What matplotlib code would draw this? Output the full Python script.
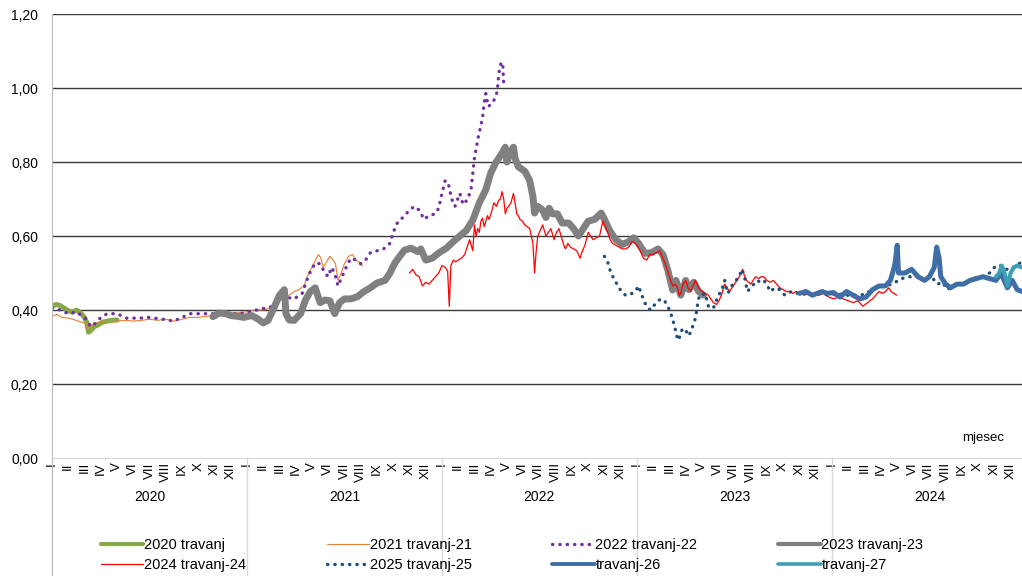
import numpy as np
import matplotlib
matplotlib.use("Agg")
import matplotlib.pyplot as plt
from matplotlib.transforms import blended_transform_factory

plt.rcParams['font.family'] = ['Liberation Sans', 'DejaVu Sans']

# x values are months counted from January 2020 (0 = start of I/2020)
years = ['2020', '2021', '2022', '2023', '2024']
months = ['I', 'II', 'III', 'IV', 'V', 'VI', 'VII', 'VIII', 'IX', 'X', 'XI', 'XII']

s2020 = [(0, .41), (0.25, .415), (0.5, .412), (0.75, .405), (1.0, .398), (1.25, .394),
         (1.5, .40), (1.75, .392), (2.0, .38), (2.15, .365), (2.25, .34), (2.4, .345),
         (2.6, .355), (2.85, .36), (3.1, .367), (3.4, .37), (3.7, .372), (4.0, .373)]

s2021 = [(0, .383), (0.3, .388), (0.6, .38), (1.0, .378), (1.3, .375), (1.6, .37), (2.0, .365),
         (2.25, .35), (2.5, .362), (2.8, .366), (3.2, .37), (3.6, .368), (4.0, .37), (4.5, .372),
         (5.0, .37), (5.5, .372), (6.0, .375), (6.5, .372), (7.0, .375), (7.5, .37), (8.0, .375),
         (8.5, .38), (9.0, .38), (9.5, .383), (10.0, .386), (10.5, .388), (11.0, .39), (11.5, .393),
         (12.0, .395), (12.5, .40), (13.0, .40), (13.4, .405), (13.7, .41), (14.0, .425),
         (14.3, .435), (14.6, .44), (14.9, .45), (15.2, .455), (15.5, .465), (15.8, .50),
         (16.1, .525), (16.4, .55), (16.55, .54), (16.7, .515), (16.9, .53), (17.1, .545),
         (17.3, .535), (17.45, .525), (17.6, .48), (17.8, .50), (18.0, .525), (18.25, .545),
         (18.5, .55), (18.7, .535), (18.9, .53), (19.1, .52)]

s2022 = [(0, .405), (0.5, .40), (1.0, .39), (1.5, .395), (2.0, .38), (2.4, .355), (2.7, .365),
         (3.0, .38), (3.4, .39), (4.0, .39), (4.6, .378), (5.4, .378), (6.0, .38), (6.8, .375),
         (7.5, .37), (8.0, .38), (8.5, .39), (9.5, .39), (10.8, .39), (11.6, .39), (12.6, .40),
         (13.6, .41), (14.4, .435), (14.9, .43), (15.4, .445), (15.8, .495), (16.2, .527),
         (16.5, .525), (16.8, .50), (17.0, .49), (17.2, .515), (17.4, .50), (17.6, .465),
         (18.0, .505), (18.2, .525), (18.4, .54), (18.7, .535), (19.0, .525), (19.3, .535),
         (19.6, .555), (20.0, .56), (20.4, .565), (20.8, .58), (21.0, .61), (21.3, .64),
         (21.6, .65), (22.0, .67), (22.3, .68), (22.6, .67), (22.9, .645), (23.2, .655),
         (23.6, .66), (23.8, .675), (24.0, .715), (24.2, .75), (24.4, .74), (24.6, .70),
         (24.8, .68), (25.1, .715), (25.3, .685), (25.6, .70), (25.8, .73), (25.9, .77),
         (26.0, .81), (26.2, .86), (26.3, .88), (26.5, .92), (26.6, .96), (26.7, .985),
         (26.85, .95), (27.0, .955), (27.2, .967), (27.4, .99), (27.5, 1.04), (27.65, 1.07),
         (27.75, 1.06), (27.8, 1.01), (27.9, 1.0)]

s2023 = [(9.9, .382), (10.3, .392), (10.7, .39), (11.0, .385), (11.4, .383), (11.8, .38),
         (12.3, .385), (12.7, .375), (13.0, .365), (13.3, .372), (13.7, .41), (14.0, .44),
         (14.3, .455), (14.4, .39), (14.6, .373), (14.9, .372), (15.3, .39), (15.6, .427),
         (15.9, .45), (16.2, .46), (16.5, .42), (16.8, .427), (17.1, .425), (17.4, .39),
         (17.7, .42), (18.0, .43), (18.4, .43), (18.8, .436), (19.2, .45), (19.6, .46),
         (20.0, .473), (20.5, .48), (20.8, .50), (21.1, .527), (21.4, .545), (21.7, .562),
         (22.1, .567), (22.5, .558), (22.7, .565), (23.0, .535), (23.4, .54), (23.8, .554),
         (24.3, .568), (24.7, .585), (25.1, .60), (25.5, .615), (25.9, .643), (26.3, .69),
         (26.7, .725), (27.0, .77), (27.3, .797), (27.7, .824), (27.9, .84), (28.0, .80),
         (28.2, .825), (28.4, .84), (28.5, .81), (28.7, .787), (29.1, .775), (29.4, .75),
         (29.6, .706), (29.7, .662), (29.9, .68), (30.2, .67), (30.4, .65), (30.6, .675),
         (30.8, .66), (31.1, .66), (31.4, .635), (31.8, .635), (32.1, .62), (32.4, .60),
         (32.7, .62), (33.0, .64), (33.4, .645), (33.8, .662), (34.0, .645), (34.3, .616),
         (34.7, .59), (35.1, .577), (35.5, .585), (35.8, .595), (36.1, .58), (36.5, .553),
         (36.9, .555), (37.3, .565), (37.6, .55), (37.9, .508), (38.2, .454), (38.4, .48),
         (38.7, .44), (39.0, .48), (39.2, .455), (39.5, .475), (39.8, .45), (40.1, .44)]

s2024 = [(22.0, .50), (22.2, .51), (22.4, .495), (22.6, .49), (22.8, .465), (23.0, .475),
         (23.2, .47), (23.4, .48), (23.6, .49), (23.8, .50), (24.0, .52), (24.2, .515),
         (24.35, .505), (24.45, .41), (24.55, .52), (24.7, .535), (24.85, .53), (25.0, .535),
         (25.2, .54), (25.4, .55), (25.55, .57), (25.7, .59), (25.8, .575), (25.9, .56),
         (26.0, .63), (26.1, .60), (26.2, .62), (26.3, .61), (26.4, .64), (26.5, .648),
         (26.6, .625), (26.7, .64), (26.8, .655), (26.9, .645), (27.05, .665), (27.2, .69),
         (27.35, .68), (27.5, .697), (27.6, .70), (27.7, .72), (27.8, .70), (27.9, .66),
         (28.0, .675), (28.1, .68), (28.25, .69), (28.4, .715), (28.5, .69), (28.6, .66),
         (28.7, .655), (28.8, .645), (28.95, .64), (29.1, .63), (29.25, .625), (29.4, .62),
         (29.5, .60), (29.6, .58), (29.7, .50), (29.8, .56), (29.9, .60), (30.05, .615),
         (30.2, .63), (30.3, .615), (30.4, .60), (30.55, .61), (30.7, .62), (30.8, .605),
         (30.9, .59), (31.05, .61), (31.2, .62), (31.4, .59), (31.5, .575), (31.6, .565),
         (31.75, .58), (31.9, .57), (32.1, .565), (32.3, .56), (32.5, .54), (32.65, .56),
         (32.8, .575), (33.0, .61), (33.15, .60), (33.3, .59), (33.5, .595), (33.7, .60),
         (33.9, .64), (34.05, .625), (34.2, .61), (34.35, .59), (34.5, .58), (34.7, .575),
         (34.9, .57), (35.1, .565), (35.3, .565), (35.5, .57), (35.7, .585), (35.9, .58),
         (36.0, .575), (36.2, .56), (36.4, .54), (36.6, .535), (36.8, .55), (37.0, .55),
         (37.2, .555), (37.4, .56), (37.55, .545), (37.7, .53), (37.85, .51), (38.0, .49),
         (38.2, .465), (38.35, .47), (38.5, .46), (38.6, .44), (38.7, .445), (38.85, .47),
         (39.0, .48), (39.15, .46), (39.3, .45), (39.45, .465), (39.6, .48), (39.8, .46),
         (40.0, .45), (40.2, .445), (40.4, .44), (40.55, .43), (40.7, .42), (40.9, .415),
         (41.05, .425), (41.2, .44), (41.4, .47), (41.55, .46), (41.7, .45), (41.85, .46),
         (42.0, .47), (42.15, .48), (42.3, .49), (42.45, .505), (42.5, .51), (42.6, .495),
         (42.75, .48), (43.0, .47), (43.15, .48), (43.3, .49), (43.5, .485), (43.65, .49),
         (43.8, .49), (44.0, .48), (44.2, .475), (44.4, .48), (44.6, .47), (44.8, .46),
         (45.0, .455), (45.2, .45), (45.4, .45), (45.6, .445), (45.8, .45), (46.0, .445),
         (46.3, .44), (46.6, .445), (46.9, .44), (47.2, .44), (47.5, .445), (47.8, .435),
         (48.1, .43), (48.4, .435), (48.7, .43), (49.0, .425), (49.3, .42), (49.6, .425),
         (49.9, .41), (50.2, .42), (50.5, .43), (50.7, .44), (50.9, .45), (51.1, .445),
         (51.3, .45), (51.5, .46), (51.65, .45), (51.8, .445), (52.0, .44)]

s2025 = [(34.0, .545), (34.2, .53), (34.4, .50), (34.7, .475), (34.9, .46), (35.1, .447),
         (35.3, .44), (35.5, .44), (35.7, .445), (35.9, .45), (36.1, .465), (36.3, .44),
         (36.5, .418), (36.7, .405), (36.85, .40), (37.1, .415), (37.3, .425), (37.5, .43),
         (37.7, .425), (37.9, .41), (38.05, .395), (38.2, .375), (38.35, .35), (38.45, .33),
         (38.55, .318), (38.65, .33), (38.8, .35), (39.0, .345), (39.2, .33), (39.4, .352),
         (39.55, .37), (39.65, .39), (39.75, .42), (39.85, .44), (40.0, .44), (40.2, .445),
         (40.4, .41), (40.55, .405), (40.7, .405), (40.85, .42), (41.0, .44), (41.2, .45),
         (41.4, .48), (41.5, .46), (41.6, .445), (41.9, .47), (42.1, .48), (42.3, .49),
         (42.45, .51), (42.6, .495), (42.8, .45), (43.0, .46), (43.2, .47), (43.4, .48),
         (43.6, .475), (43.8, .48), (44.0, .47), (44.2, .45), (44.5, .46), (44.8, .455),
         (45.1, .44), (45.5, .45), (45.9, .445), (46.3, .445), (46.8, .44), (47.3, .445),
         (47.8, .44), (48.3, .445), (48.8, .44), (49.3, .44), (49.8, .44), (50.3, .45),
         (50.8, .46), (51.3, .465), (51.7, .47), (51.9, .475), (52.1, .48), (52.3, .485),
         (52.7, .49), (53.2, .49), (53.7, .48), (54.1, .495), (54.3, .48), (54.5, .47),
         (54.8, .475), (55.1, .455), (55.5, .465), (56.0, .47), (56.5, .48), (57.0, .49),
         (57.3, .49), (57.7, .50), (58.1, .52), (58.4, .52), (58.7, .51), (59.0, .51),
         (59.3, .52), (59.7, .53)]

s2026 = [(46.0, .445), (46.4, .45), (46.8, .44), (47.1, .445), (47.4, .45), (47.7, .445),
         (48.1, .447), (48.5, .435), (48.9, .45), (49.3, .44), (49.7, .43), (50.1, .435),
         (50.5, .455), (50.9, .465), (51.3, .465), (51.6, .48), (51.8, .51), (51.9, .53),
         (52.02, .575), (52.1, .50), (52.5, .50), (52.9, .51), (53.3, .49), (53.7, .48),
         (54.0, .49), (54.3, .515), (54.45, .57), (54.6, .54), (54.7, .49), (55.0, .47),
         (55.3, .46), (55.7, .47), (56.1, .47), (56.5, .48), (56.9, .485), (57.3, .49),
         (57.7, .485), (58.1, .48), (58.4, .50), (58.6, .48), (58.8, .46), (59.1, .48),
         (59.4, .455), (59.7, .45)]

s2027 = [(58.1, .49), (58.3, .50), (58.45, .52), (58.6, .505), (58.8, .465), (59.0, .50),
         (59.2, .515), (59.4, .52), (59.7, .515)]

dots = (0, (0.1, 2.1))
series = [
    ('2020 travanj', s2020, dict(color='#86a846', lw=3.6)),
    ('2021 travanj-21', s2021, dict(color='#ed7d31', lw=0.8)),
    ('2022 travanj-22', s2022, dict(color='#7030a0', lw=2.4, ls=dots, dash_capstyle='round')),
    ('2023 travanj-23', s2023, dict(color='#808080', lw=5.0)),
    ('2024 travanj-24', s2024, dict(color='#ff0000', lw=0.9)),
    ('2025 travanj-25', s2025, dict(color='#1f4e79', lw=2.4, ls=dots, dash_capstyle='round')),
    ('travanj-26', s2026, dict(color='#3f6ea6', lw=3.6)),
    ('travanj-27', s2027, dict(color='#3e9fb5', lw=3.0)),
]
legend_lw = {'2020 travanj': 3.0, '2023 travanj-23': 3.0, 'travanj-26': 2.8, 'travanj-27': 2.6}

fig = plt.figure(figsize=(10.22, 5.76), dpi=100)
ax = fig.add_axes([52 / 1022, 1 - 458 / 576, 970 / 1022, 444 / 576])

handles = {}
for name, pts, style in series:
    m, v = np.array(pts).T
    line, = ax.plot(m, v, solid_joinstyle='round', solid_capstyle='round', **style)
    handles[name] = line

ax.set_xlim(0, 59.7)
ax.set_ylim(0, 1.2)
yt = np.arange(0, 1.21, 0.2)
ax.set_yticks(yt)
ax.set_yticklabels([f'{t:.2f}'.replace('.', ',') for t in yt], fontsize=10)
for t in yt[1:]:
    ax.axhline(t, color='#3a3a3a', lw=1.0, zorder=0.5)

ax.set_xticks(np.arange(60))
ax.set_xticklabels(months * len(years), rotation=90, fontsize=9.5, va='top')
ax.tick_params(axis='x', length=0, pad=3)
ax.tick_params(axis='y', length=0, pad=10)

for s in ['top', 'right']:
    ax.spines[s].set_visible(False)
ax.spines['bottom'].set_color('#d9d9d9')
ax.spines['left'].set_color('#bfbfbf')

trans = blended_transform_factory(ax.transData, fig.transFigure)
bottom = 1 - 458 / 576
for k in range(len(years)):
    ax.plot([12 * k, 12 * k], [0, bottom], transform=trans, color='#d9d9d9' if k else '#bfbfbf',
            lw=1, clip_on=False)
    ax.text(12 * k + 6, 1 - 497 / 576, years[k], transform=trans, ha='center', va='center',
            fontsize=10)

ax.text(58.6, 0.055, 'mjesec', ha='right', va='center', fontsize=9.5)

order = ['2020 travanj', '2024 travanj-24', '2021 travanj-21', '2025 travanj-25',
         '2022 travanj-22', 'travanj-26', '2023 travanj-23', 'travanj-27']
leg = fig.legend([handles[n] for n in order], order, ncol=4, loc='center',
                 bbox_to_anchor=(512 / 1022, 1 - 555 / 576), frameon=False, fontsize=10.5,
                 handlelength=2.9, handletextpad=0.05, columnspacing=5.55, labelspacing=0.4)
for name, hl in zip(order, leg.get_lines()):
    if name in legend_lw:
        hl.set_linewidth(legend_lw[name])

fig.savefig('out.png', dpi=100)
